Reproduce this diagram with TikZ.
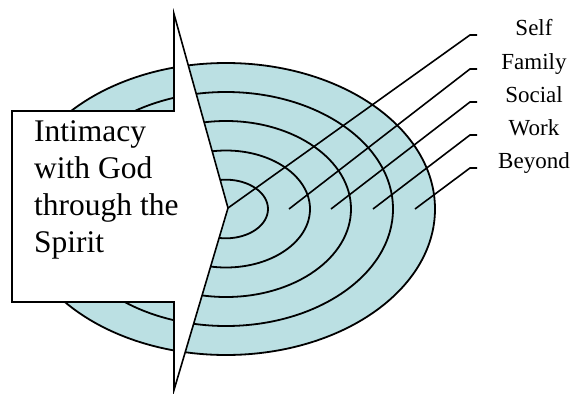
\documentclass[tikz,border=0pt]{standalone}
\usepackage{fontspec}
\setmainfont{Liberation Serif}
\usetikzlibrary{positioning}

\definecolor{ringblue}{RGB}{187,224,227}

\begin{document}
\begin{tikzpicture}[
    x=1pt, y=-1pt,
    ring/.style={draw, line width=1.8pt},
    banner/.style={
        draw,
        fill=white,
        line width=1.6pt,
        miter limit=20
    },
    leader/.style={line width=1.6pt},
    tag/.style={
        anchor=base,
        inner sep=0pt,
        font=\fontsize{23}{28}\selectfont
    },
    heading/.style={
        anchor=base west,
        align=left,
        inner sep=0pt,
        font=\fontsize{31.5}{36.7}\selectfont
    }
]
\useasboundingbox (0,0) rectangle (574,394);

\draw[ring, fill=ringblue] (226,209) ellipse [x radius=209pt, y radius=146pt];
\draw[ring] (226,209) ellipse [x radius=167pt, y radius=117pt];
\draw[ring] (226,209) ellipse [x radius=125pt, y radius=88pt];
\draw[ring] (226,209) ellipse [x radius=84pt, y radius=58.5pt];
\draw[ring] (226,209) ellipse [x radius=42pt, y radius=29.3pt];

\coordinate (tip) at (228,208);
\draw[banner] (12,111) -- (174,111) -- (174,14) -- (tip)
    -- (174,390) -- (174,302) -- (12,302) -- cycle;
\node[heading] (intimacy) at (34,252) {Intimacy\\with God\\through the\\Spirit};

\coordinate (gap1) at (289,209);
\coordinate (gap2) at (331,209);
\coordinate (gap3) at (373,209);
\coordinate (gap4) at (415,209);

\node[tag] (self) at (534,35) {Self};
\node[tag] (family) at (534,69) {Family};
\node[tag] (social) at (534,102) {Social};
\node[tag] (work) at (534,135) {Work};
\node[tag] (beyond) at (534,168) {Beyond};

\draw[leader] (tip) -- (470,35) -- (477,35);
\draw[leader] (gap1) -- (470,69) -- (477,69);
\draw[leader] (gap2) -- (470,102) -- (477,102);
\draw[leader] (gap3) -- (470,135) -- (477,135);
\draw[leader] (gap4) -- (470,168) -- (477,168);
\end{tikzpicture}
\end{document}
